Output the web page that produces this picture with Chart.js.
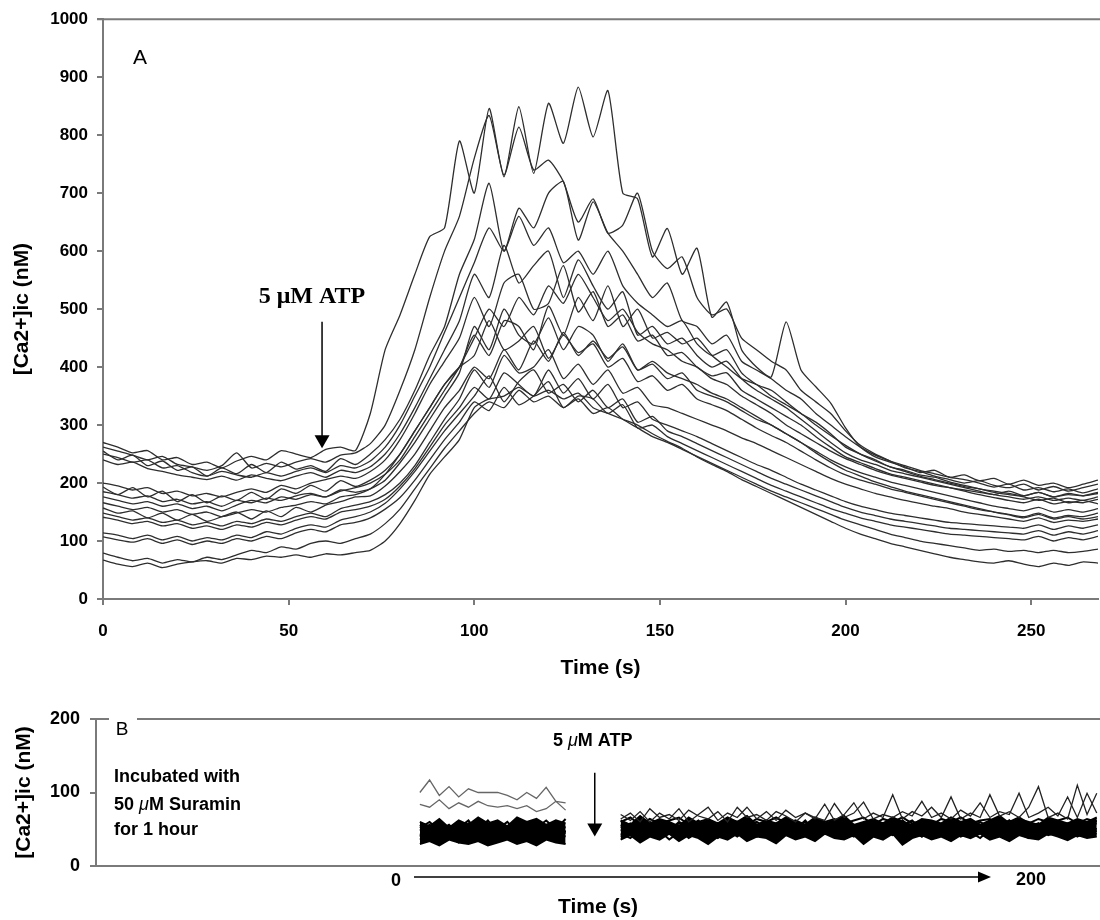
<!DOCTYPE html>
<html><head><meta charset="utf-8">
<script src="https://cdn.jsdelivr.net/npm/chart.js@4.4.0/dist/chart.umd.min.js"></script>
<style>
html,body{margin:0;padding:0;background:#fff;}
#wrap{position:relative;width:1100px;height:920px;overflow:hidden;background:#fff;}
#cA{position:absolute;left:0;top:0;}
#cB{position:absolute;left:0;top:690px;}
</style></head><body>
<div id="wrap"><canvas id="cA" width="1100" height="690"></canvas><canvas id="cB" width="1100" height="230"></canvas></div>
<script>
// ---------- Panel A data (time in s, [Ca2+]ic in nM) ----------
const TIME_A = [0,4,8,12,16,20,24,28,32,36,40,44,48,52,56,60,64,68,72,76,80,84,88,92,96,100,104,108,112,116,120,124,128,132,136,140,144,148,152,156,160,164,168,172,176,180,184,188,192,196,200,204,208,212,216,220,224,228,232,236,240,244,248,252,256,260,264,268];
const cell01 = [270,262,252,256,240,244,232,236,226,238,246,240,256,250,244,258,262,256,320,430,490,560,625,640,790,700,846,728,849,734,855,786,883,797,877,700,690,590,639,560,605,486,512,430,400,383,478,395,366,338,295,262,245,236,228,218,222,210,214,204,208,198,205,196,200,192,198,205];
const cell02 = [262,255,248,240,246,232,228,222,230,252,226,234,228,236,242,236,248,252,268,300,360,430,520,600,660,760,834,731,814,740,757,720,650,690,631,645,700,600,570,590,520,490,500,450,430,410,395,360,340,320,290,265,250,238,226,220,212,206,200,204,196,192,198,188,194,186,192,198];
const cell03 = [255,240,248,230,238,222,228,212,226,216,232,218,236,224,230,220,242,232,250,275,310,360,420,470,560,620,717,600,674,640,700,720,619,685,631,600,560,520,545,480,470,440,455,410,395,380,360,345,320,300,280,262,248,238,230,222,216,210,206,200,193,198,188,192,185,190,183,190];
const cell04 = [250,244,236,240,226,230,218,212,220,214,210,218,212,220,226,218,230,226,238,262,300,350,400,460,520,580,640,600,660,610,640,580,600,560,600,540,510,490,470,480,440,420,430,390,370,360,340,320,305,285,262,250,240,228,222,214,210,202,196,190,186,182,178,184,176,180,178,184];
const cell05 = [240,232,236,225,220,214,210,206,212,205,214,208,204,212,218,210,222,218,228,250,285,330,380,430,480,560,520,610,545,575,600,520,585,540,500,530,455,470,440,450,420,400,410,380,360,345,330,310,290,270,252,240,232,222,216,210,204,198,192,186,180,176,172,176,170,174,170,176];
const cell06 = [200,195,188,192,182,186,178,182,176,184,190,184,196,190,200,206,212,208,220,240,275,320,370,410,450,520,470,545,560,500,510,575,495,530,470,490,445,455,420,425,400,385,390,360,345,330,315,300,280,262,245,235,225,216,210,204,198,192,186,180,175,170,166,172,164,168,166,172];
const cell07 = [193,180,192,176,186,168,180,166,178,170,184,172,190,182,196,186,204,194,205,222,250,290,330,370,400,455,420,480,470,430,505,455,520,480,540,470,500,450,460,440,450,420,400,380,370,350,335,320,300,282,265,250,238,228,220,212,206,200,194,190,184,180,176,170,174,166,170,164];
const cell08 = [185,180,174,178,168,172,164,168,160,170,166,174,170,178,182,176,188,184,190,205,235,270,310,350,390,470,430,500,455,440,485,430,470,455,410,440,395,405,380,390,360,350,340,325,310,300,285,270,255,240,228,218,210,202,196,190,184,178,172,166,160,156,152,158,150,154,150,156];
const cell09 = [166,160,154,158,150,154,146,150,142,148,154,150,158,162,168,164,176,180,190,215,250,290,330,370,400,420,480,430,445,470,415,455,425,440,400,415,375,385,360,370,345,335,325,310,295,282,270,255,240,226,214,205,198,190,184,178,172,166,160,154,150,146,142,148,140,144,142,148];
const cell10 = [157,148,152,140,148,136,146,134,142,150,138,152,142,158,150,162,168,176,178,195,220,250,290,330,360,400,380,430,395,445,410,460,420,445,415,435,395,410,390,380,370,355,345,330,315,300,285,270,252,236,222,212,202,194,186,180,174,168,162,156,150,145,140,146,138,142,138,142];
const cell11 = [148,142,136,140,132,136,128,132,126,134,130,138,134,142,148,142,156,162,168,180,200,230,270,310,345,395,365,420,390,400,430,380,405,370,395,355,365,335,330,320,310,300,290,278,268,256,244,232,220,208,198,190,182,176,170,165,160,156,150,146,142,138,134,140,132,136,134,138];
const cell12 = [141,136,130,134,126,130,122,126,120,128,124,132,128,136,142,138,150,154,160,172,195,225,262,300,330,365,345,390,370,350,395,355,380,345,370,330,340,310,300,290,280,268,256,244,232,222,210,198,188,178,168,160,154,148,144,140,136,132,130,128,126,124,122,128,120,126,122,128];
const cell13 = [114,110,104,110,102,108,100,106,102,110,106,116,112,122,128,124,136,142,150,165,190,220,255,290,320,350,385,340,375,395,355,370,340,360,330,345,305,315,290,280,268,256,244,232,220,208,198,188,178,168,158,150,144,138,134,130,126,122,120,118,116,114,112,118,110,116,112,118];
const cell14 = [107,102,98,104,96,102,94,100,96,104,100,108,104,114,120,116,128,132,140,155,175,205,240,275,305,340,325,365,335,350,375,330,350,345,320,335,295,300,280,268,256,244,232,220,208,196,186,176,166,156,148,140,134,128,124,120,116,112,110,108,106,104,102,108,100,106,102,108];
const cell15 = [79,72,66,70,62,68,64,72,68,76,84,80,90,86,96,100,96,104,112,130,155,190,225,260,290,320,340,330,360,340,350,330,345,320,330,310,295,280,270,258,246,234,222,210,198,186,176,166,156,146,136,128,120,112,106,100,96,92,88,84,86,82,84,80,84,80,82,86];
const cell16 = [67,60,56,62,54,60,64,66,62,70,68,74,72,76,72,78,76,80,84,100,130,170,215,245,275,330,345,350,365,350,360,345,355,330,320,310,300,285,272,260,245,232,220,206,194,182,170,158,146,134,122,112,104,96,90,84,78,72,68,64,62,66,60,56,62,58,64,62];
const cell17 = [176,170,164,168,160,164,156,160,152,162,170,166,176,172,180,176,186,192,200,215,240,280,320,360,400,450,500,470,520,490,540,510,560,520,480,500,460,440,430,410,400,380,370,350,335,320,300,285,270,255,242,232,222,214,208,202,196,192,188,184,180,186,178,184,176,182,178,182];
const ATP_A_TIME = 59, ARROW_A_FROM = 478, ARROW_A_TO = 260;

// ---------- Panel B data ----------
const TIME_B_PRE = [0,3,6,9,12,15,18,21,24,27,30,33,36,39,42,45];
const TIME_B_POST = [62,65,68,71,74,77,80,83,86,89,92,95,98,101,104,107,110,113,116,119,122,125,128,131,134,137,140,143,146,149,152,155,158,161,164,167,170,173,176,179,182,185,188,191,194,197,200,203,206,209];
const preTop1 = [100,117,96,108,94,105,100,100,100,96,90,100,92,107,88,86];
const preTop2 = [84,80,90,78,86,80,88,82,80,82,78,82,74,78,88,76];
const preBand1 = [52,60,48,56,44,58,50,62,46,54,60,50,56,48,58,52];
const preBand2 = [44,38,50,42,56,40,48,36,52,44,38,50,42,54,46,40];
const preBand3 = [60,54,64,52,62,56,66,58,62,54,66,60,64,56,62,58];
const preBand4 = [36,42,34,40,32,44,36,40,34,42,38,46,36,44,40,48];
const preBand5 = [48,56,42,52,60,46,54,44,58,48,52,44,60,50,54,46];
const preBand6 = [30,34,28,36,32,30,34,28,32,36,30,34,28,36,32,30];
const preBand7 = [56,48,58,46,52,62,44,56,50,60,46,58,52,62,50,64];
const preBand8 = [40,50,44,54,38,50,42,52,40,48,56,42,50,40,52,44];
const postSpike1 = [70,62,74,60,72,64,78,60,70,80,62,72,66,80,64,74,62,76,66,72,64,84,62,70,86,64,72,66,97,64,74,68,80,66,94,64,72,66,97,68,74,66,80,108,66,72,64,110,70,99];
const postSpike2 = [64,72,60,78,66,70,62,76,68,64,74,60,80,66,70,62,74,68,60,72,66,62,85,66,72,87,64,70,66,74,68,88,66,72,64,76,68,86,66,74,70,99,66,72,80,68,94,66,99,72];
const postBand1 = [52,58,46,60,50,56,44,54,62,48,56,50,60,46,54,58,48,56,50,62,46,54,58,50,56,48,60,52,46,56,62,50,54,48,58,52,60,46,56,50,62,54,48,58,52,56,50,60,54,58];
const postBand2 = [44,38,50,42,48,36,46,40,52,44,38,48,42,50,40,46,36,44,50,42,38,46,52,40,44,36,48,42,50,38,46,40,52,44,48,40,46,38,50,42,48,44,38,50,42,46,40,52,44,48];
const postBand3 = [60,66,56,64,58,62,66,56,60,64,58,66,60,56,64,60,66,58,62,56,66,60,64,58,62,66,56,64,60,66,58,62,56,64,60,66,58,62,64,56,60,66,58,64,60,62,66,58,64,60];
const postBand4 = [36,42,32,40,36,44,34,42,38,30,40,36,44,34,40,38,31,42,36,40,34,44,38,36,42,30,40,36,44,29,38,42,36,40,34,42,38,44,36,40,34,42,38,36,44,40,35,42,38,40];
const postBand5 = [48,54,44,56,50,46,58,52,44,54,48,56,50,44,52,58,46,54,48,56,52,44,50,58,46,54,50,44,56,52,48,56,44,52,58,48,54,50,46,56,52,48,54,58,46,52,56,48,54,50];
const postBand6 = [56,50,62,52,58,48,60,54,50,58,52,62,48,56,60,52,58,50,54,60,48,58,52,62,54,50,58,54,48,62,52,56,60,50,54,58,50,60,52,56,62,50,58,54,60,52,58,50,56,62];
const postBand7 = [40,46,52,42,48,44,50,38,46,52,42,48,40,50,46,42,52,44,40,48,44,52,42,46,40,50,44,48,42,46,52,40,48,44,50,42,46,52,40,48,44,50,46,42,48,44,52,40,46,44];
const postBand8 = [62,56,68,58,64,60,54,66,58,62,56,64,60,68,56,62,58,66,60,56,64,58,62,68,56,60,64,58,66,60,56,64,62,58,66,60,64,56,62,68,58,64,60,56,66,62,58,64,60,66];
const ATP_B_TIME = 54, ARROW_B_FROM = 127, ARROW_B_TO = 40;

// ---------- rendering ----------
const SANS = "'Liberation Sans', Arial, Helvetica, sans-serif";
const SERIF = "'Liberation Serif', 'Times New Roman', serif";
const AXIS_GRAY = '#7a7a7a';
const toPts = (times, vals) => vals.map((v, i) => ({x: times[i], y: v}));

function drawRich(ctx, x, y, parts) {
  ctx.textAlign = 'left';
  let cx = x;
  for (const [txt, font] of parts) {
    ctx.font = font;
    ctx.fillText(txt, cx, y);
    cx += ctx.measureText(txt).width;
  }
}
function downArrow(ctx, x, yFrom, yTip) {
  ctx.strokeStyle = '#000'; ctx.fillStyle = '#000'; ctx.lineWidth = 1.5;
  ctx.beginPath(); ctx.moveTo(x, yFrom); ctx.lineTo(x, yTip - 12); ctx.stroke();
  ctx.beginPath(); ctx.moveTo(x - 7.5, yTip - 13); ctx.lineTo(x + 7.5, yTip - 13); ctx.lineTo(x, yTip); ctx.closePath(); ctx.fill();
}

const annotA = {
  id: 'annotA',
  afterDraw(chart) {
    const {ctx, chartArea: a, scales: {x, y}} = chart;
    ctx.save();
    ctx.strokeStyle = AXIS_GRAY; ctx.lineWidth = 2;
    ctx.beginPath(); ctx.moveTo(a.left - 6, a.top); ctx.lineTo(1100, a.top); ctx.stroke();
    ctx.fillStyle = '#000'; ctx.textBaseline = 'middle'; ctx.textAlign = 'center';
    ctx.font = `21px ${SANS}`;
    ctx.fillText('A', 140, 58);
    ctx.font = `bold 24px ${SERIF}`;
    ctx.fillText('5 \u03bcM ATP', 312, 297);
    downArrow(ctx, x.getPixelForValue(ATP_A_TIME), y.getPixelForValue(ARROW_A_FROM), y.getPixelForValue(ARROW_A_TO));
    ctx.restore();
  }
};

const annotB = {
  id: 'annotB',
  afterDraw(chart) {
    const {ctx, chartArea: a, scales: {x, y}} = chart;
    ctx.save();
    ctx.strokeStyle = AXIS_GRAY; ctx.lineWidth = 2;
    ctx.beginPath(); ctx.moveTo(a.left - 6, a.top); ctx.lineTo(109, a.top); ctx.stroke();
    ctx.beginPath(); ctx.moveTo(137, a.top); ctx.lineTo(1100, a.top); ctx.stroke();
    ctx.fillStyle = '#000'; ctx.textBaseline = 'middle'; ctx.textAlign = 'center';
    ctx.font = `19px ${SANS}`;
    ctx.fillText('B', 122, 40);
    const B = `bold 18px ${SANS}`, MU = `italic 18px ${SANS}`;
    drawRich(ctx, 114, 87, [['Incubated with', B]]);
    drawRich(ctx, 114, 115, [['50 ', B], ['\u03bc', MU], ['M Suramin', B]]);
    drawRich(ctx, 114, 140, [['for 1 hour', B]]);
    drawRich(ctx, 553, 51, [['5 ', B], ['\u03bc', MU], ['M ATP', B]]);
    downArrow(ctx, x.getPixelForValue(ATP_B_TIME), y.getPixelForValue(ARROW_B_FROM), y.getPixelForValue(ARROW_B_TO));
    ctx.textAlign = 'center'; ctx.font = B;
    ctx.fillText('0', 396, 191);
    ctx.fillText('200', 1031, 190);
    ctx.strokeStyle = '#000'; ctx.lineWidth = 1.5;
    ctx.beginPath(); ctx.moveTo(414, 187); ctx.lineTo(980, 187); ctx.stroke();
    ctx.beginPath(); ctx.moveTo(978, 181.5); ctx.lineTo(978, 192.5); ctx.lineTo(991, 187); ctx.closePath(); ctx.fill();
    ctx.restore();
  }
};

const plainNum = v => String(v);
const axisCommon = (fontSize, pad, step) => ({
  ticks: {color: '#000', font: {family: SANS, size: fontSize, weight: 'bold'}, padding: pad, maxRotation: 0, stepSize: step, includeBounds: false, callback: plainNum},
  grid: {display: true, drawOnChartArea: false, drawTicks: true, tickLength: 6, color: AXIS_GRAY, lineWidth: 2},
  border: {display: true, color: AXIS_GRAY, width: 2}
});
const titleFont = {family: SANS, size: 21, weight: 'bold'};

const PANEL_A_CELLS = [cell01, cell02, cell03, cell04, cell05, cell06, cell07, cell08, cell09, cell10, cell11, cell12, cell13, cell14, cell15, cell16, cell17];

new Chart(document.getElementById('cA'), {
  type: 'line',
  data: {
    datasets: PANEL_A_CELLS.map((vals, k) => ({
      label: 'cell ' + (k + 1), data: toPts(TIME_A, vals),
      borderColor: '#2e2e2e', borderWidth: 1.3, pointRadius: 0, tension: 0.2, fill: false
    }))
  },
  options: {
    responsive: false, animation: false, devicePixelRatio: 1, events: [],
    layout: {padding: {top: 19, right: 2, left: 0, bottom: 0}},
    plugins: {legend: {display: false}, tooltip: {enabled: false}},
    scales: {
      x: Object.assign(axisCommon(17, 16, 50), {
        type: 'linear', min: 0, max: 268,
        title: {display: true, text: 'Time (s)', color: '#000', font: titleFont, padding: {top: 0, bottom: 9}},
        afterFit(s) { s.height = 91; }
      }),
      y: Object.assign(axisCommon(17, 9, 100), {
        type: 'linear', min: 0, max: 1000,
        title: {display: true, text: '[Ca2+]ic (nM)', color: '#000', font: titleFont, padding: {top: 10, bottom: 0}},
        afterFit(s) { s.width = 103; }
      })
    }
  },
  plugins: [annotA]
});

// Panel B datasets; the dense overlapping band is shaded between its outermost traces
const lineB = (times, vals, color, w, fillTarget) => ({
  data: toPts(times, vals), borderColor: color, borderWidth: w, pointRadius: 0, tension: 0,
  fill: fillTarget === undefined ? false : {target: fillTarget}, backgroundColor: '#000'
});
const datasetsB = [
  lineB(TIME_B_PRE, preTop1, '#666', 1.3),          // 0
  lineB(TIME_B_PRE, preTop2, '#666', 1.3),          // 1
  lineB(TIME_B_POST, postSpike1, '#222', 1.3),      // 2
  lineB(TIME_B_POST, postSpike2, '#222', 1.3),      // 3
  lineB(TIME_B_PRE, preBand1, '#000', 2),           // 4
  lineB(TIME_B_PRE, preBand2, '#000', 2),           // 5
  lineB(TIME_B_PRE, preBand3, '#000', 2, 9),        // 6 -> shaded down to preBand6
  lineB(TIME_B_PRE, preBand4, '#000', 2),           // 7
  lineB(TIME_B_PRE, preBand5, '#000', 2),           // 8
  lineB(TIME_B_PRE, preBand6, '#000', 2),           // 9
  lineB(TIME_B_PRE, preBand7, '#000', 2),           // 10
  lineB(TIME_B_PRE, preBand8, '#000', 2),           // 11
  lineB(TIME_B_POST, postBand1, '#000', 2),         // 12
  lineB(TIME_B_POST, postBand2, '#000', 2),         // 13
  lineB(TIME_B_POST, postBand3, '#000', 2),         // 14
  lineB(TIME_B_POST, postBand4, '#000', 2),         // 15
  lineB(TIME_B_POST, postBand5, '#000', 2),         // 16
  lineB(TIME_B_POST, postBand6, '#000', 2),         // 17
  lineB(TIME_B_POST, postBand7, '#000', 2),         // 18
  lineB(TIME_B_POST, postBand8, '#000', 2, 15)      // 19 -> shaded down to postBand4
];

new Chart(document.getElementById('cB'), {
  type: 'line',
  data: {datasets: datasetsB},
  options: {
    responsive: false, animation: false, devicePixelRatio: 1, events: [],
    layout: {padding: {top: 29, right: 0, left: 0, bottom: 0}},
    plugins: {legend: {display: false}, tooltip: {enabled: false}, filler: {propagate: false}},
    scales: {
      x: {
        type: 'linear', min: -100, max: 210,
        ticks: {display: false}, grid: {display: false},
        border: {display: true, color: AXIS_GRAY, width: 2},
        title: {display: true, text: 'Time (s)', color: '#000', font: titleFont, padding: {top: 0, bottom: 0}},
        afterFit(s) { s.height = 54; }
      },
      y: Object.assign(axisCommon(18, 10, 100), {
        type: 'linear', min: 0, max: 200,
        title: {display: true, text: '[Ca2+]ic (nM)', color: '#000', font: titleFont, padding: {top: 12, bottom: 0}},
        afterFit(s) { s.width = 96; }
      })
    }
  },
  plugins: [annotB]
});
</script>
</body></html>
